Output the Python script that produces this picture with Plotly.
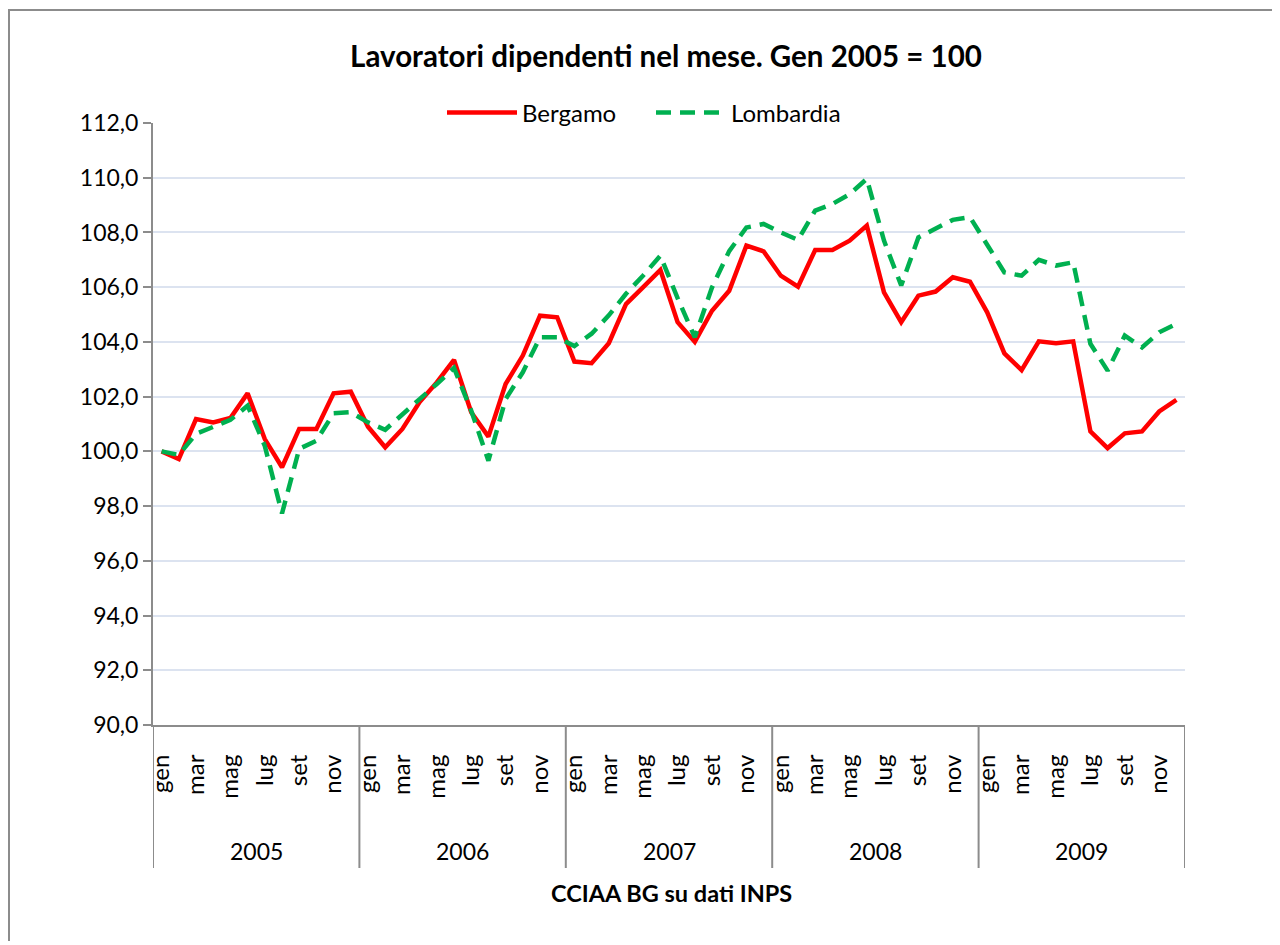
import plotly.graph_objects as go

years = ["2005", "2006", "2007", "2008", "2009"]
months = ["gen", "feb", "mar", "apr", "mag", "giu", "lug", "ago", "set", "ott", "nov", "dic"]
shown_months = ["gen", "mar", "mag", "lug", "set", "nov"]

bergamo = [
    100.0, 99.72, 101.18, 101.06, 101.22, 102.12, 100.45, 99.42, 100.82, 100.82, 102.12, 102.18,
    100.9, 100.15, 100.82, 101.8, 102.52, 103.34, 101.43, 100.54, 102.46, 103.5, 104.96, 104.9,
    103.28, 103.22, 103.95, 105.38, 106.0, 106.63, 104.72, 104.0, 105.14, 105.87, 107.52, 107.31,
    106.42, 106.02, 107.36, 107.36, 107.7, 108.25, 105.81, 104.72, 105.69, 105.84, 106.36, 106.2,
    105.08, 103.58, 102.97, 104.02, 103.95, 104.02, 100.73, 100.12, 100.66, 100.73, 101.46, 101.88,
]
lombardia = [
    100.0, 99.87, 100.64, 100.88, 101.15, 101.67, 100.2, 97.73, 100.09, 100.39, 101.39, 101.43,
    101.06, 100.79, 101.37, 101.91, 102.46, 103.05, 101.49, 99.66, 101.91, 102.89, 104.17, 104.17,
    103.85, 104.3, 104.97, 105.76, 106.43, 107.15, 105.6, 104.17, 105.99, 107.32, 108.18, 108.31,
    108.0, 107.73, 108.8, 109.04, 109.4, 109.96, 107.7, 106.06, 107.82, 108.13, 108.46, 108.56,
    107.58, 106.54, 106.42, 107.0, 106.79, 106.91, 103.93, 102.95, 104.23, 103.8, 104.35, 104.66,
]
y_ticks = [90, 92, 94, 96, 98, 100, 102, 104, 106, 108, 110, 112]

n = len(years) * len(months)
x = list(range(n))
tickvals = [i for i in x if months[i % 12] in shown_months]
ticktext = [months[i % 12] for i in tickvals]

FONT = "Lato, Carlito, 'Open Sans', sans-serif"

fig = go.Figure()
fig.add_trace(go.Scatter(x=x, y=bergamo, name="Bergamo", mode="lines",
                         line=dict(color="#ff0000", width=4.5)))
fig.add_trace(go.Scatter(x=x, y=lombardia, name="Lombardia", mode="lines",
                         line=dict(color="#00b050", width=4.5, dash="15px,9px")))

OFF = 8  # page body margin
W, H = 1280 - 2 * OFF, 945 - OFF - 4
L, R, T, B = 153 - OFF, 1185 - OFF, 123 - OFF, 725 - OFF
pw, ph = R - L, B - T

def px(xp):
    return (xp - OFF - L) / pw

def py(yp):
    return (B - (yp - OFF)) / ph

shapes = []
# year dividers
for k in range(len(years) + 1):
    shapes.append(dict(type="line", xref="x", yref="paper", x0=k * 12 - 0.5, x1=k * 12 - 0.5,
                       y0=0, y1=py(868), line=dict(color="#8c8c8c", width=2)))
# outer border
shapes.append(dict(type="rect", xref="paper", yref="paper", x0=px(9), x1=px(1300),
                   y0=py(960), y1=py(10), line=dict(color="#8c8c8c", width=2),
                   fillcolor="rgba(0,0,0,0)"))

annotations = []
for k, yr in enumerate(years):
    annotations.append(dict(text=yr, xref="x", yref="paper", x=k * 12 + 5.5, y=py(851),
                            showarrow=False, font=dict(family=FONT, size=23, color="#000"),
                            xanchor="center", yanchor="middle"))
annotations.append(dict(text="<b>CCIAA BG su dati INPS</b>", xref="paper", yref="paper",
                        x=px(671), y=py(893), showarrow=False,
                        font=dict(family=FONT, size=23.5, color="#000"),
                        xanchor="center", yanchor="middle"))

fig.update_layout(
    width=W, height=H,
    margin=dict(l=L, r=W - R, t=T, b=H - B, autoexpand=False),
    paper_bgcolor="white", plot_bgcolor="white",
    separators=",.",
    title=dict(text="<b>Lavoratori dipendenti nel mese. Gen 2005 = 100</b>",
               x=(666 - OFF) / W, y=1 - (57 - OFF) / H, xanchor="center", yanchor="middle",
               font=dict(family=FONT, size=29.5, color="#000")),
    legend=dict(orientation="h", x=px(651), y=py(113), xanchor="center", yanchor="middle",
                bgcolor="white", font=dict(family=FONT, size=24, color="#000"),
                itemwidth=70, entrywidth=124, tracegroupgap=0),
    showlegend=True,
    shapes=shapes,
    annotations=annotations,
    xaxis=dict(range=[-0.5, n - 0.5], tickmode="array", tickvals=tickvals, ticktext=ticktext,
               tickangle=-90, ticklabelstandoff=18, showgrid=False, zeroline=False,
               showline=True, linecolor="#8c8c8c", linewidth=2, ticks="",
               tickfont=dict(family=FONT, size=24, color="#000")),
    yaxis=dict(range=[90, 112], tickmode="array", tickvals=y_ticks, tickformat=".1f",
               showgrid=True, gridcolor="#dce3f0", gridwidth=2, zeroline=False,
               showline=True, linecolor="#8c8c8c", linewidth=2,
               ticks="outside", ticklen=8, tickcolor="#8c8c8c", tickwidth=2,
               tickfont=dict(family=FONT, size=23, color="#000")),
)

fig.write_html("out.html")
